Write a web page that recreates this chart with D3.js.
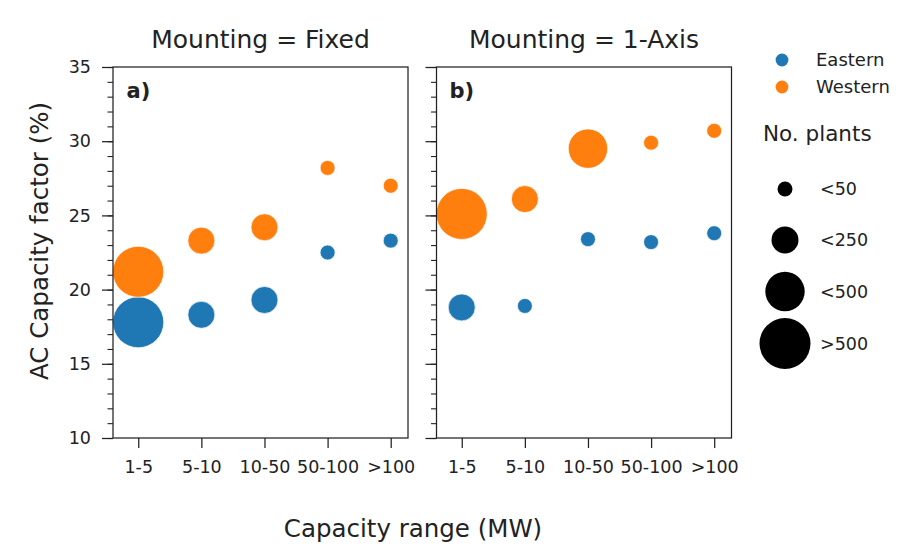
<!DOCTYPE html>
<html>
<head>
<meta charset="utf-8">
<script src="https://cdn.jsdelivr.net/npm/d3@7"></script>
<style>
  body { margin: 0; background: #fff; }
  text { font-family: "DejaVu Sans", sans-serif; fill: #222; }
</style>
</head>
<body>
<script>
// categories and series
const ranges = ['1-5', '5-10', '10-50', '50-100', '>100'];
const mountings = ['Fixed', '1-Axis'];
const panelTags = ['a)', 'b)'];
const regions = ['Eastern', 'Western'];

// AC capacity factor (%) per panel / region, in range order
const fixedEastern = [17.8, 18.3, 19.3, 22.5, 23.3];
const fixedWestern = [21.2, 23.3, 24.2, 28.2, 27.0];
const axisEastern = [18.8, 18.9, 23.4, 23.2, 23.8];
const axisWestern = [25.1, 26.1, 29.5, 29.9, 30.7];

// plant count class per point
const fixedEasternN = ['>500', '<250', '<250', '<50', '<50'];
const fixedWesternN = ['>500', '<250', '<250', '<50', '<50'];
const axisEasternN = ['<250', '<50', '<50', '<50', '<50'];
const axisWesternN = ['>500', '<250', '<500', '<50', '<50'];

const sizeClasses = ['<50', '<250', '<500', '>500'];
const sizeAreas = [56, 182, 388, 650];
const yTicks = [10, 15, 20, 25, 30, 35];

const panels = [
  { values: [fixedEastern, fixedWestern], counts: [fixedEasternN, fixedWesternN] },
  { values: [axisEastern, axisWestern], counts: [axisEasternN, axisWesternN] }
];

const width = 912, height = 554;
const plotTop = 67, plotBottom = 438, pw = 295;
const lefts = [113, 436.5];

const svg = d3.select('body').append('svg')
  .attr('width', width)
  .attr('height', height);

const y = d3.scaleLinear().domain([10, 35]).range([plotBottom, plotTop]);
const x = d3.scaleLinear().domain([-0.4, 4.274]).range([0, pw]);
const color = d3.scaleOrdinal().domain(regions).range(['#1f77b4', '#ff7f0e']);
const r = d3.scaleSqrt().domain([0, d3.max(sizeAreas)]).range([0, 25.5]);
const areaOf = c => sizeAreas[sizeClasses.indexOf(c)];

panels.forEach((p, pi) => {
  const g = svg.append('g').attr('transform', `translate(${lefts[pi]},0)`);

  // points, Eastern first then Western
  regions.forEach((reg, ri) => {
    g.selectAll(null)
      .data(p.values[ri].map((v, i) => ({ v, i, n: p.counts[ri][i] })))
      .enter().append('circle')
      .attr('cx', d => x(d.i))
      .attr('cy', d => y(d.v))
      .attr('r', d => r(areaOf(d.n)))
      .attr('fill', color(reg))
      .attr('stroke', '#fff')
      .attr('stroke-width', 0.7);
  });

  // minor y ticks
  g.append('g')
    .call(d3.axisLeft(y).tickValues(d3.range(10, 36)).tickSize(5.5).tickFormat(''))
    .call(a => a.select('.domain').remove())
    .selectAll('line').attr('stroke', '#222').attr('stroke-width', 1.1);

  // major y ticks
  const ya = g.append('g')
    .call(d3.axisLeft(y).tickValues(yTicks).tickSize(11).tickPadding(11)
      .tickFormat(pi === 0 ? d3.format('d') : ''));
  ya.select('.domain').remove();
  ya.selectAll('line').attr('stroke', '#222').attr('stroke-width', 1.25);
  ya.selectAll('text').style('font-size', '17.5px').style('font-family', '"DejaVu Sans", sans-serif').attr('fill', '#222');

  // x axis
  const xa = g.append('g')
    .attr('transform', `translate(0,${plotBottom})`)
    .call(d3.axisBottom(x).tickValues(d3.range(ranges.length)).tickSize(10).tickPadding(13)
      .tickFormat(i => ranges[i]));
  xa.select('.domain').remove();
  xa.selectAll('line').attr('stroke', '#222').attr('stroke-width', 1.25);
  xa.selectAll('text').style('font-size', '17.5px').style('font-family', '"DejaVu Sans", sans-serif').attr('fill', '#222');

  // frame
  g.append('rect')
    .attr('x', 0).attr('y', plotTop)
    .attr('width', pw).attr('height', plotBottom - plotTop)
    .attr('fill', 'none')
    .attr('stroke', '#222')
    .attr('stroke-width', 1.25);

  g.append('text')
    .attr('x', pw / 2).attr('y', 48)
    .attr('text-anchor', 'middle')
    .style('font-size', '25px')
    .text(`Mounting = ${mountings[pi]}`);

  g.append('text')
    .attr('x', pi === 0 ? 13.5 : 13).attr('y', 98)
    .style('font-size', '21px')
    .style('font-weight', 'bold')
    .attr('fill', '#000')
    .text(panelTags[pi]);
});

// axis titles
svg.append('text')
  .attr('transform', `translate(48,241) rotate(-90)`)
  .attr('text-anchor', 'middle')
  .style('font-size', '24.5px')
  .text('AC Capacity factor (%)');

svg.append('text')
  .attr('x', 413).attr('y', 537)
  .attr('text-anchor', 'middle')
  .style('font-size', '24.5px')
  .text('Capacity range (MW)');

// legend
const lg = svg.append('g');
regions.forEach((reg, i) => {
  lg.append('circle')
    .attr('cx', 782).attr('cy', 60 + i * 27)
    .attr('r', 6.4)
    .attr('fill', color(reg));
  lg.append('text')
    .attr('x', 816).attr('y', 60 + i * 27)
    .attr('dy', '0.35em')
    .style('font-size', '18px')
    .text(reg);
});

lg.append('text')
  .attr('x', 763).attr('y', 133)
  .attr('dy', '0.35em')
  .style('font-size', '21.5px')
  .text('No. plants');

const sizeY = [189, 240, 291.5, 343.5];
sizeClasses.forEach((c, i) => {
  lg.append('circle')
    .attr('cx', 785).attr('cy', sizeY[i])
    .attr('r', r(sizeAreas[i]))
    .attr('fill', '#000');
  lg.append('text')
    .attr('x', 820).attr('y', sizeY[i])
    .attr('dy', '0.35em')
    .style('font-size', '17.5px')
    .text(c);
});
</script>
</body>
</html>
